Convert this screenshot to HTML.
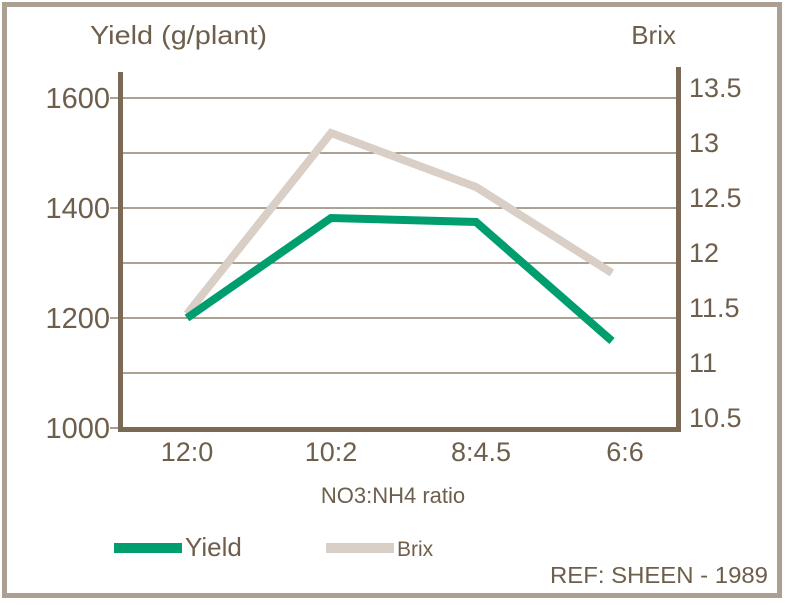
<!DOCTYPE html>
<html><head><meta charset="utf-8"><style>
body{margin:0;background:#fff;}
svg text{font-family:"Liberation Sans",sans-serif;fill:#6e5e4c;}
</style></head><body>
<svg width="785" height="601" xmlns="http://www.w3.org/2000/svg">
<rect x="4.5" y="4.5" width="775" height="591" fill="#fff" stroke="#ab9f93" stroke-width="5"/>
<g stroke="#7a6a55" stroke-width="1.3">
<line x1="110" y1="98" x2="676" y2="98"/>
<line x1="123" y1="153" x2="676" y2="153"/>
<line x1="110" y1="208" x2="676" y2="208"/>
<line x1="123" y1="263" x2="676" y2="263"/>
<line x1="110" y1="318" x2="676" y2="318"/>
<line x1="123" y1="373" x2="676" y2="373"/>
<line x1="110" y1="428" x2="120" y2="428"/>
</g>
<rect x="118" y="72" width="5" height="360" fill="#7a6a55"/>
<rect x="676" y="67" width="5" height="365" fill="#7a6a55"/>
<rect x="118" y="427" width="563" height="5" fill="#7a6a55"/>
<polyline points="187,314 331,133 476,187 612,273" fill="none" stroke="#d9cfc6" stroke-width="8"/>
<polyline points="187,318 331,218 476,222 612,341" fill="none" stroke="#009e6e" stroke-width="8"/>
<text x="90" y="44" font-size="26" textLength="177" lengthAdjust="spacingAndGlyphs">Yield (g/plant)</text>
<text x="676" y="44" font-size="26" text-anchor="end">Brix</text>
<g font-size="29" text-anchor="end">
<text x="110" y="108">1600</text>
<text x="110" y="218">1400</text>
<text x="110" y="328">1200</text>
<text x="110" y="438">1000</text>
</g>
<g font-size="27">
<text x="689" y="97">13.5</text>
<text x="689" y="152">13</text>
<text x="689" y="207">12.5</text>
<text x="689" y="262">12</text>
<text x="689" y="317">11.5</text>
<text x="689" y="372">11</text>
<text x="689" y="427">10.5</text>
</g>
<g font-size="27" text-anchor="middle">
<text x="187" y="461">12:0</text>
<text x="331" y="461">10:2</text>
<text x="481" y="461">8:4.5</text>
<text x="625" y="461">6:6</text>
</g>
<text x="393" y="503" font-size="22" text-anchor="middle">NO3:NH4 ratio</text>
<rect x="114" y="543" width="68" height="10" fill="#009e6e"/>
<text x="185" y="556" font-size="26">Yield</text>
<rect x="326" y="543" width="68" height="10" fill="#d9cfc6"/>
<text x="397" y="556" font-size="21">Brix</text>
<text x="768" y="583" font-size="23" text-anchor="end" textLength="218" lengthAdjust="spacingAndGlyphs">REF: SHEEN - 1989</text>
</svg>
</body></html>
